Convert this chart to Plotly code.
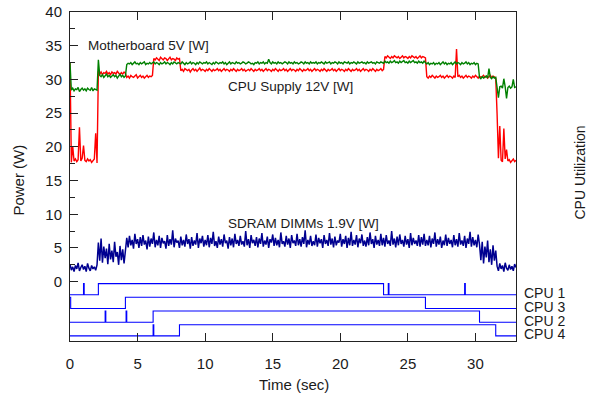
import plotly.graph_objects as go

# ---------------- data ----------------
# power samples every 0.1 s from 0.0 to 33.0 s
n_samples = 331
sample_step = 0.1

cpu_supply_12v = [
    32.6, 17.7, 20.1, 17.9, 18.2, 17.8, 18.1, 22.9, 17.9, 18.3,
    20.2, 18.0, 17.8, 18.2, 17.9, 18.1, 17.7, 18.0, 18.2, 22.0,
    17.6, 31.2, 30.8, 31.1, 30.7, 31.0, 30.9, 31.2, 30.8, 31.0,
    30.7, 31.1, 30.9, 31.0, 30.8, 31.2, 30.9, 30.7, 31.0, 30.8,
    31.1, 30.9, 30.3, 30.5, 30.2, 30.6, 30.4, 30.3, 30.5, 30.7,
    30.2, 30.4, 30.6, 30.3, 30.5, 30.2, 30.4, 30.6, 30.3, 30.5,
    30.4, 30.6, 33.1, 32.9, 33.2, 33.0, 32.8, 33.3, 33.0, 32.9,
    33.2, 33.1, 32.8, 33.0, 33.3, 32.9, 33.1, 33.0, 32.8, 33.2,
    33.0, 33.1, 31.3, 31.5, 31.2, 31.6, 31.4, 31.3, 31.5, 31.1,
    31.4, 31.6, 31.3, 31.5, 31.2, 31.4, 31.7, 31.3, 31.5, 31.4,
    31.2, 31.5, 31.3, 31.6, 31.4, 31.2, 31.5, 31.3, 31.4, 31.6,
    31.3, 31.5, 31.2, 31.4, 31.6, 31.3, 31.5, 31.4, 31.2, 31.5,
    31.3, 31.6, 31.4, 31.2, 31.5, 31.3, 31.4, 31.6, 31.3, 31.5,
    31.2, 31.4, 31.5, 31.3, 31.6, 31.4, 31.2, 31.5, 31.3, 31.4,
    31.6, 31.3, 31.5, 31.2, 31.4, 31.6, 31.3, 31.5, 31.4, 31.2,
    31.5, 31.3, 31.6, 31.4, 31.2, 31.5, 31.3, 31.4, 31.6, 31.3,
    31.5, 31.2, 31.4, 31.6, 31.3, 31.5, 31.4, 31.2, 31.5, 31.3,
    31.6, 31.4, 31.2, 31.5, 31.3, 31.4, 31.6, 31.3, 31.5, 31.2,
    31.4, 31.6, 31.3, 31.5, 31.4, 31.2, 31.5, 31.3, 31.6, 31.4,
    31.2, 31.5, 31.3, 31.4, 31.6, 31.3, 31.5, 31.2, 31.4, 31.6,
    31.3, 31.5, 31.4, 31.2, 31.5, 31.3, 31.6, 31.4, 31.2, 31.5,
    31.3, 31.4, 31.6, 31.3, 31.5, 31.2, 31.4, 31.6, 31.3, 31.5,
    31.4, 31.2, 31.5, 31.3, 31.6, 31.4, 31.2, 31.5, 31.3, 31.4,
    31.6, 31.3, 31.5, 33.4, 33.2, 33.5, 33.3, 33.1, 33.4, 33.2,
    33.5, 33.3, 33.2, 33.4, 33.1, 33.3, 33.5, 33.2, 33.4, 33.3,
    33.1, 33.4, 33.2, 33.5, 33.3, 33.2, 33.4, 33.1, 33.3, 33.5,
    33.2, 33.4, 33.3, 33.2, 30.4, 30.2, 30.5, 30.3, 30.6, 30.4,
    30.2, 30.5, 30.3, 30.4, 30.6, 30.3, 30.5, 30.2, 30.4, 30.6,
    30.3, 30.5, 30.4, 30.2, 30.5, 30.3, 34.5, 30.4, 30.6, 30.3,
    30.5, 30.2, 30.4, 30.6, 30.3, 30.5, 30.4, 30.2, 30.5, 30.3,
    30.6, 30.4, 30.2, 30.5, 30.3, 30.4, 30.6, 30.3, 30.5, 30.2,
    30.4, 30.6, 30.3, 30.5, 30.4, 30.2, 24.9, 18.3, 23.1, 18.0,
    17.8, 22.7, 18.2, 19.6, 17.9, 18.1, 17.7, 18.0, 18.2, 17.8,
    18.0,
]

motherboard_5v = [
    32.5, 28.4, 28.7, 28.3, 28.6, 28.5, 28.8, 28.2, 28.5, 28.7,
    28.4, 28.6, 28.3, 28.7, 28.5, 28.4, 28.8, 28.3, 28.6, 28.5,
    28.4, 32.9, 30.6, 30.4, 30.7, 30.3, 30.5, 30.8, 30.4, 30.6,
    30.3, 30.5, 30.7, 30.4, 30.6, 30.2, 30.5, 30.8, 30.4, 30.6,
    30.3, 30.5, 32.2, 32.4, 32.3, 32.5, 32.2, 32.4, 32.6, 32.3,
    32.4, 32.2, 32.5, 32.3, 32.4, 32.6, 32.2, 32.4, 32.3, 32.5,
    32.3, 32.4, 32.6, 32.3, 32.5, 32.4, 32.2, 32.5, 32.3, 32.4,
    32.6, 32.3, 32.5, 32.4, 32.2, 32.5, 32.3, 32.6, 32.4, 32.3,
    32.5, 32.4, 32.3, 32.6, 32.4, 32.2, 32.5, 32.3, 32.4, 32.6,
    32.3, 32.5, 32.4, 32.2, 32.5, 32.3, 32.6, 32.4, 32.3, 32.5,
    32.4, 32.6, 32.3, 32.5, 32.4, 32.2, 32.5, 32.3, 32.6, 32.4,
    32.3, 32.5, 32.4, 32.6, 32.3, 32.5, 32.2, 32.4, 32.6, 32.3,
    32.5, 32.4, 32.3, 32.6, 32.4, 32.5, 32.3, 32.4, 32.6, 32.5,
    32.3, 32.4, 32.6, 32.5, 32.3, 32.4, 32.2, 32.5, 32.4, 32.6,
    32.3, 32.5, 32.4, 32.6, 32.3, 32.5, 32.4, 33.0, 32.5, 32.3,
    32.6, 32.4, 32.5, 32.3, 32.6, 32.4, 32.5, 32.3, 32.4, 32.6,
    32.5, 32.3, 32.6, 32.4, 32.5, 32.3, 32.6, 32.4, 32.5, 32.3,
    32.4, 32.6, 32.5, 32.3, 32.6, 32.4, 32.5, 32.3, 32.6, 32.4,
    32.5, 32.4, 32.6, 32.3, 32.5, 32.4, 32.6, 32.5, 32.3, 32.6,
    32.4, 32.5, 32.6, 32.3, 32.5, 32.4, 32.6, 32.5, 32.3, 32.6,
    32.4, 32.5, 32.3, 32.6, 32.5, 32.4, 32.6, 32.3, 32.5, 32.4,
    32.6, 32.5, 32.3, 32.6, 32.4, 32.5, 32.6, 32.4, 32.5, 32.3,
    32.6, 32.4, 32.5, 32.6, 32.4, 32.5, 32.3, 32.6, 32.5, 32.4,
    32.6, 32.5, 32.4, 32.7, 32.5, 32.6, 32.4, 32.7, 32.5, 32.6,
    32.8, 32.5, 32.6, 32.4, 32.7, 32.5, 32.6, 32.8, 32.5, 32.6,
    32.4, 32.7, 32.5, 32.6, 32.8, 32.5, 32.6, 32.4, 32.7, 32.5,
    32.6, 32.4, 32.7, 32.5, 32.3, 32.5, 32.2, 32.4, 32.3, 32.5,
    32.2, 32.4, 32.3, 32.5, 32.2, 32.4, 32.6, 32.3, 32.5, 32.2,
    32.4, 32.3, 32.5, 32.2, 32.4, 32.6, 32.3, 32.5, 32.4, 32.2,
    32.5, 32.3, 32.4, 32.6, 32.3, 32.5, 32.2, 32.4, 32.3, 32.5,
    32.2, 32.4, 32.3, 30.3, 30.1, 30.4, 30.2, 30.3, 30.5, 30.2,
    31.6, 30.3, 30.1, 30.4, 30.2, 30.3, 28.8, 27.3, 28.9, 29.0,
    28.7, 30.1, 28.9, 27.2, 28.8, 29.0, 28.7, 28.9, 30.0, 28.8,
    28.9,
]

sdram_1_9v = [
    2.6, 1.7, 2.2, 1.5, 2.4, 1.9, 2.8, 1.6, 2.1, 2.5,
    1.8, 2.3, 1.5, 2.7, 2.0, 1.6, 2.4, 1.9, 2.2, 1.7,
    2.5, 5.8, 3.1, 6.4, 2.8, 5.2, 3.5, 4.9, 2.6, 5.6,
    3.3, 4.6, 2.9, 5.9, 3.7, 4.4, 2.5, 5.3, 3.2, 4.8,
    2.7, 5.0, 6.5, 5.1, 6.8, 5.4, 6.2, 4.9, 7.1, 5.6,
    6.3, 5.0, 6.6, 5.3, 6.9, 5.5, 6.1, 4.8, 6.7, 5.2,
    6.4, 5.6, 7.3, 5.1, 6.2, 5.4, 6.8, 5.0, 6.5, 5.7,
    6.0, 4.9, 6.9, 5.3, 6.3, 5.5, 7.6, 5.1, 6.4, 5.8,
    6.1, 5.0, 6.7, 5.4, 6.2, 5.2, 7.0, 5.6, 6.3, 4.9,
    6.6, 5.3, 6.1, 5.5, 7.2, 5.0, 6.4, 5.7, 6.8, 5.2,
    6.2, 5.4, 6.9, 5.1, 6.5, 5.6, 7.4, 5.3, 6.0, 5.0,
    6.7, 5.5, 6.3, 5.2, 7.0, 5.7, 6.1, 4.9, 6.6, 5.4,
    6.4, 5.1, 7.1, 5.6, 6.2, 5.3, 6.8, 5.5, 6.0, 5.2,
    7.5, 5.4, 6.3, 5.0, 6.9, 5.7, 6.2, 5.3, 6.6, 5.1,
    6.4, 5.6, 7.2, 5.2, 6.1, 5.5, 6.7, 5.0, 6.3, 5.8,
    7.0, 5.3, 6.5, 5.4, 6.2, 5.1, 7.3, 5.6, 6.0, 5.2,
    6.8, 5.5, 6.4, 5.0, 6.9, 5.7, 6.1, 5.3, 7.1, 5.4,
    6.3, 5.2, 6.6, 5.6, 7.6, 5.1, 6.2, 5.5, 6.8, 5.3,
    6.0, 5.4, 7.0, 5.2, 6.5, 5.7, 6.3, 5.0, 6.9, 5.6,
    6.2, 5.3, 7.2, 5.5, 6.4, 5.1, 6.7, 5.4, 6.1, 5.8,
    7.1, 5.2, 6.3, 5.6, 6.8, 5.0, 6.5, 5.4, 7.4, 5.3,
    6.2, 5.5, 6.9, 5.1, 6.4, 5.7, 7.0, 5.3, 6.1, 5.2,
    6.6, 5.4, 7.3, 5.6, 6.3, 5.0, 6.8, 5.5, 6.2, 5.3,
    7.1, 5.4, 6.5, 5.2, 6.9, 5.6, 6.1, 5.3, 7.5, 5.5,
    6.4, 5.1, 6.7, 5.4, 7.0, 5.6, 6.2, 5.2, 6.8, 5.5,
    6.3, 5.0, 7.2, 5.4, 6.5, 5.6, 6.1, 5.3, 6.9, 5.2,
    6.6, 5.5, 7.1, 5.3, 6.2, 5.4, 6.8, 5.1, 6.4, 5.6,
    7.3, 5.2, 6.3, 5.5, 6.7, 5.0, 6.1, 5.4, 7.0, 5.3,
    6.5, 5.6, 6.2, 5.1, 6.9, 5.4, 6.3, 5.2, 7.2, 5.5,
    6.1, 5.3, 6.8, 5.0, 6.4, 5.6, 7.4, 5.2, 6.6, 5.4,
    6.2, 5.1, 7.0, 5.5, 3.2, 5.9, 2.7, 5.2, 3.6, 6.1,
    2.9, 4.8, 2.5, 5.4, 3.1, 4.6, 2.3, 1.6, 2.7, 1.9,
    2.4, 1.5, 2.8, 2.0, 1.7, 2.5, 1.8, 2.3, 1.6, 2.6,
    2.1,
]

# CPU utilization: step transition times (sec) and busy state (0 idle / 1 busy)
cpu_names = ["CPU 1", "CPU 3", "CPU 2", "CPU 4"]
cpu_times = [
    [0, 1.0, 1.05, 2.1, 23.2, 23.55, 23.6, 29.2, 29.25, 33],
    [0, 0.05, 4.1, 26.3, 33],
    [0, 2.6, 2.65, 4.15, 4.2, 6.15, 30.3, 33],
    [0, 6.15, 6.2, 8.1, 31.5, 33],
]
cpu_states = [
    [0, 1, 0, 1, 0, 1, 0, 1, 0, 0],
    [1, 0, 1, 0, 0],
    [0, 1, 0, 1, 0, 1, 0, 0],
    [0, 1, 0, 1, 0, 0],
]

x_ticks = [0, 5, 10, 15, 20, 25, 30]
y_ticks = [0, 5, 10, 15, 20, 25, 30, 35, 40]
y_minor = [2.5, 7.5, 12.5, 17.5, 22.5, 27.5, 32.5, 37.5]

# ---------------- layout constants ----------------
FONT = "Liberation Sans, Arial, Helvetica, sans-serif"
TXT = "#1a1a1a"
AX = "#222222"
band_top = -1.95      # baseline of the first CPU band (power units)
band_gap = 2.03       # distance between CPU bands
band_height = 1.66    # height of a busy pulse
label_drop = 0.6      # CPU label offset below band centre

t = [round(i * sample_step, 1) for i in range(n_samples)]

fig = go.Figure()
fig.add_trace(go.Scatter(x=t, y=cpu_supply_12v, mode="lines",
                         line=dict(color="#ff0000", width=1.4)))
fig.add_trace(go.Scatter(x=t, y=motherboard_5v, mode="lines",
                         line=dict(color="#008000", width=1.4)))
fig.add_trace(go.Scatter(x=t, y=sdram_1_9v, mode="lines",
                         line=dict(color="#000090", width=1.5)))

label_pos = []
for k, (tt, ss) in enumerate(zip(cpu_times, cpu_states)):
    base = band_top - k * band_gap
    fig.add_trace(go.Scatter(x=tt, y=[base + s * band_height for s in ss],
                             mode="lines", line=dict(color="#0000ff", width=1.1, shape="hv")))
    label_pos.append(base + band_height / 2 - label_drop)

# invisible trace to activate y2 axis
fig.add_trace(go.Scatter(x=[0], y=[0], yaxis="y2", mode="markers",
                         marker=dict(opacity=0), hoverinfo="skip"))

yr = [-8.8, 40]
fig.update_layout(
    width=589, height=396,
    margin=dict(l=70, r=73, t=12, b=55, autoexpand=False),
    paper_bgcolor="white", plot_bgcolor="white",
    showlegend=False,
    font=dict(family=FONT, size=15, color=TXT),
    xaxis=dict(range=[0, 33], tickvals=x_ticks, ticks="inside", ticklen=8,
               tickcolor=AX, showline=True, linecolor=AX, linewidth=1,
               mirror="ticks", showgrid=False, zeroline=False, automargin=False,
               ticklabelstandoff=9, tickfont=dict(size=15, color=TXT)),
    yaxis=dict(range=yr, tickvals=y_ticks, ticks="inside", ticklen=8,
               tickcolor=AX, showline=True, linecolor=AX, linewidth=1,
               mirror=True, showgrid=False, zeroline=False, automargin=False,
               ticklabelstandoff=4, tickfont=dict(size=15, color=TXT),
               minor=dict(tickmode="array", tickvals=y_minor, ticks="inside",
                          ticklen=5, tickcolor=AX)),
    yaxis2=dict(range=yr, overlaying="y", side="right", tickvals=label_pos,
                ticktext=cpu_names, ticks="", showline=False, showgrid=False,
                zeroline=False, automargin=False, ticklabelstandoff=7,
                tickfont=dict(size=14, color=TXT)),
)

ann = [
    dict(text="Motherboard 5V [W]", x=5.84, y=34.97, xref="x", yref="y",
         showarrow=False, font=dict(size=13.5, color=TXT)),
    dict(text="CPU Supply 12V [W]", x=16.35, y=28.96, xref="x", yref="y",
         showarrow=False, font=dict(size=13.5, color=TXT)),
    dict(text="SDRAM DIMMs 1.9V [W]", x=17.27, y=8.64, xref="x", yref="y",
         showarrow=False, font=dict(size=13.5, color=TXT)),
    dict(text="Power (W)", x=-0.1155, y=0.489, xref="paper", yref="paper",
         xanchor="center", yanchor="middle",
         textangle=-90, showarrow=False, font=dict(size=15, color=TXT)),
    dict(text="Time (sec)", x=0.503, y=-0.1307, xref="paper", yref="paper",
         xanchor="center", yanchor="middle",
         showarrow=False, font=dict(size=15, color=TXT)),
    dict(text="CPU Utilization", x=1.1435, y=0.512, xref="paper", yref="paper",
         xanchor="center", yanchor="middle",
         textangle=-90, showarrow=False, font=dict(size=14, color=TXT)),
]
fig.update_layout(annotations=ann)

fig.write_html("out.html")
